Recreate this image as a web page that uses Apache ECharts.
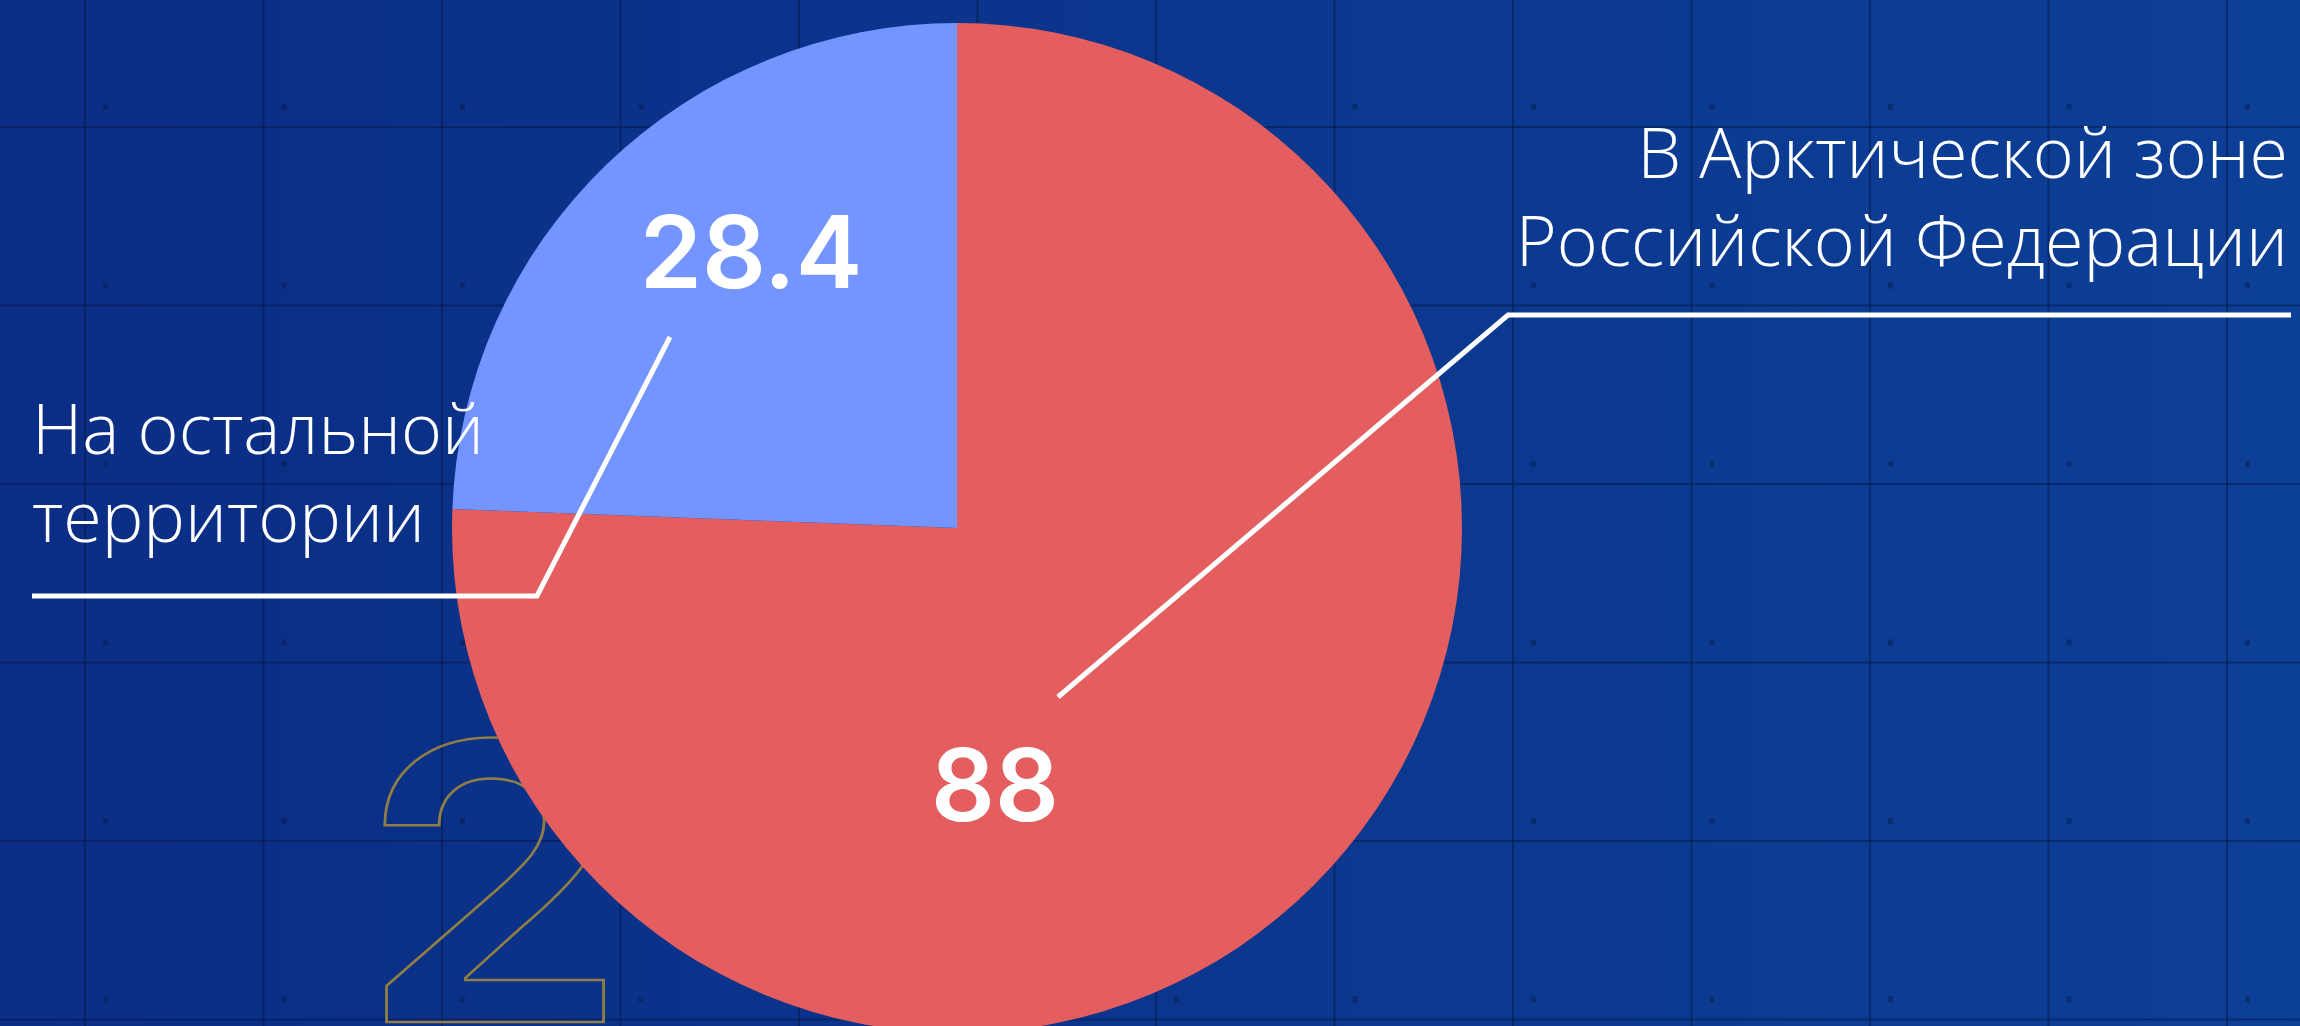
<!DOCTYPE html>
<html>
<head>
<meta charset="utf-8">
<title>Pie</title>
<script src="https://cdn.jsdelivr.net/npm/echarts@6/dist/echarts.min.js"></script>
<style>
  html, body { margin: 0; padding: 0; background: #0c3189; }
  #chart { width: 2300px; height: 1026px; }
</style>
</head>
<body>
<div id="chart"></div>
<script>
// data
const names = ['В Арктической зоне\nРоссийской Федерации', 'На остальной\nтерритории']
const values = [88, 28.4]
const colors = ['#e45e5f', '#7495ff']

// layout
const W = 2300
const H = 1026
const CX = 957
const CY = 528
const R = 505
const CELL = 178.5
const GRID_X0 = 85
const GRID_Y0 = 127
const lineColor = 'rgba(6, 28, 72, 0.55)'

// label placement
const valuePos = [[995, 791], [751, 258]]
const namePos = [
  { x: 2288, y: 202, align: 'right' },
  { x: 32, y: 478, align: 'left' }
]
const leader = [
  [[1058, 697], [1508, 315], [2291, 315]],
  [[670, 337], [537, 596], [32, 596]]
]

// background grid + dots
const deco = []
for (let x = GRID_X0; x < W; x += CELL) {
  deco.push({ type: 'rect', z: 0, silent: true, shape: { x: x - 1, y: 0, width: 2, height: H }, style: { fill: lineColor } })
}
for (let y = GRID_Y0; y < H; y += CELL) {
  deco.push({ type: 'rect', z: 0, silent: true, shape: { x: 0, y: y - 1, width: W, height: 2 }, style: { fill: lineColor } })
}
for (let x = GRID_X0; x < W; x += CELL) {
  for (let y = GRID_Y0; y < H + CELL; y += CELL) {
    deco.push({ type: 'rect', z: 0, silent: true, shape: { x: x + 18, y: y - 23, width: 5, height: 6 }, style: { fill: 'rgba(6, 28, 72, 0.45)' } })
  }
}
// big outlined "2"
deco.push({
  type: 'text',
  z: 1,
  silent: true,
  x: 358,
  y: 906,
  scaleX: 1.13,
  style: {
    text: '2',
    font: '600 386px Inter',
    align: 'left',
    verticalAlign: 'middle',
    fill: 'rgba(0,0,0,0)',
    stroke: '#8f7f45',
    lineWidth: 2.5
  }
})

const chart = echarts.init(document.getElementById('chart'))

chart.setOption({
  backgroundColor: {
    type: 'linear', x: 0, y: 0, x2: 1, y2: 0,
    colorStops: [
      { offset: 0, color: '#0b2d85' },
      { offset: 1, color: '#0c3f96' }
    ]
  },
  animation: false,
  graphic: { elements: deco },
  series: [
    {
      type: 'pie',
      z: 2,
      silent: true,
      center: [CX, CY],
      radius: R,
      startAngle: 90,
      clockwise: true,
      avoidLabelOverlap: false,
      data: values.map((v, i) => ({ value: v, name: names[i], itemStyle: { color: colors[i] } })),
      label: {
        show: true,
        position: 'inside',
        formatter: p => String(p.value),
        color: '#fff',
        fontFamily: 'Inter',
        fontWeight: 600,
        fontSize: 100
      },
      labelLine: { show: false },
      labelLayout: p => ({
        x: valuePos[p.dataIndex][0],
        y: valuePos[p.dataIndex][1],
        align: 'center',
        verticalAlign: 'middle'
      })
    },
    {
      type: 'pie',
      z: 3,
      silent: true,
      center: [CX, CY],
      radius: R,
      startAngle: 90,
      clockwise: true,
      avoidLabelOverlap: false,
      data: values.map((v, i) => ({
        value: v,
        name: names[i],
        itemStyle: { color: 'rgba(0,0,0,0)' },
        label: { align: namePos[i].align }
      })),
      label: {
        show: true,
        position: 'outside',
        formatter: '{b}',
        color: '#fff',
        fontFamily: 'Open Sans',
        fontWeight: 300,
        fontSize: 70,
        lineHeight: 88,
        width: 900
      },
      labelLine: {
        show: true,
        length: 20,
        length2: 20,
        lineStyle: { color: '#fff', width: 5 }
      },
      labelLayout: p => ({
        x: namePos[p.dataIndex].x,
        y: namePos[p.dataIndex].y,
        align: namePos[p.dataIndex].align,
        verticalAlign: 'middle',
        labelLinePoints: leader[p.dataIndex]
      })
    }
  ]
})
</script>
</body>
</html>
